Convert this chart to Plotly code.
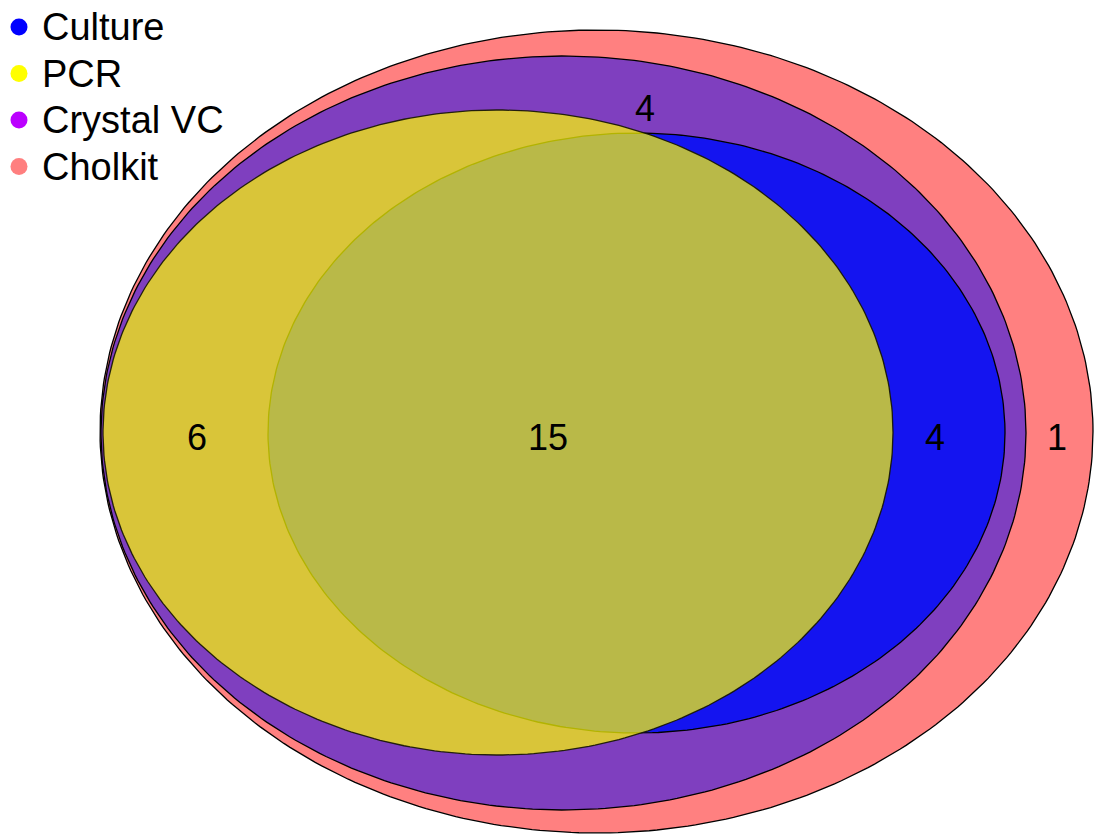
import numpy as np
import plotly.graph_objects as go

# ---- data ----
sets = ["Culture", "PCR", "Crystal VC", "Cholkit"]
legend_colors = ["#0000FF", "#FFFF00", "#BB00FF", "#FF7F7F"]
region_labels = ["4", "6", "15", "4", "1"]

# ---- geometry (window-pixel units) ----
# draw order: Cholkit, Crystal VC, Culture, PCR
ellipses = {
    "Cholkit":    dict(cx=596.5, cy=431.5, rx=496.5, ry=401.5, fill="#FF8080", line="black"),
    "Crystal VC": dict(cx=563.5, cy=433.0, rx=462.5, ry=377.0, fill="#7F3FBF", line="black"),
    "Culture":    dict(cx=636.5, cy=433.0, rx=368.5, ry=300.0, fill="#1414F0", line="black"),
    "PCR":        dict(cx=498.0, cy=432.5, rx=395.0, ry=322.5, fill="rgba(255,255,0,0.7)", line="rgba(20,20,0,0.9)"),
}
label_pos = [(645, 108), (197, 437), (548, 437), (935, 437), (1057, 437)]
LEG_X, LEG_Y0, LEG_DY, LEG_TX = 19, 27, 46.5, 40
FONT = "Liberation Sans, Arial"

fig = go.Figure()
t = np.linspace(0, 2 * np.pi, 400)
for name in ["Cholkit", "Crystal VC", "Culture", "PCR"]:
    e = ellipses[name]
    fig.add_trace(go.Scatter(
        x=e["cx"] + e["rx"] * np.cos(t), y=e["cy"] + e["ry"] * np.sin(t),
        mode="lines", fill="toself", fillcolor=e["fill"],
        line=dict(color=e["line"], width=1.3), showlegend=False, hoverinfo="skip"))

# legend drawn manually
leg_y = [LEG_Y0 + i * LEG_DY for i in range(len(sets))]
fig.add_trace(go.Scatter(x=[LEG_X] * len(sets), y=leg_y, mode="markers",
                         marker=dict(color=legend_colors, size=17), showlegend=False,
                         hoverinfo="skip"))
for name, y in zip(sets, leg_y):
    fig.add_annotation(x=LEG_TX, y=y, text=name, showarrow=False, xanchor="left",
                       font=dict(size=38, color="black", family=FONT))

for txt, (x, y) in zip(region_labels, label_pos):
    fig.add_annotation(x=x, y=y, text=txt, showarrow=False,
                       font=dict(size=36, color="black", family=FONT))

fig.update_layout(
    width=1100, height=835, margin=dict(l=0, r=0, t=0, b=0),
    plot_bgcolor="white", paper_bgcolor="white",
    xaxis=dict(range=[0, 1100], visible=False),
    yaxis=dict(range=[835, 0], visible=False),
    showlegend=False,
)
fig.write_html("out.html", config={"displayModeBar": False},
               post_script="document.body.style.margin='0';document.body.style.overflow='hidden';")
